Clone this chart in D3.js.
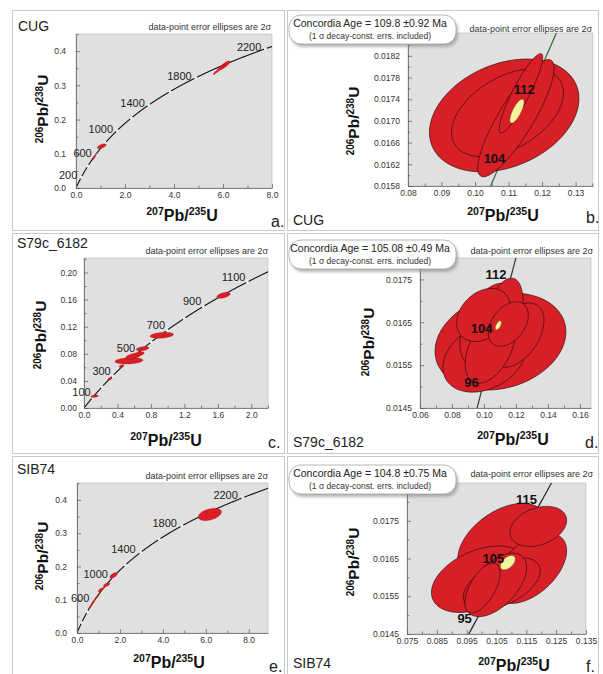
<!DOCTYPE html>
<html>
<head>
<meta charset="utf-8">
<script src="https://cdn.jsdelivr.net/npm/d3@7"></script>
<style>
body { margin: 0; background: #fff; }
svg { font-family: "Liberation Sans", Arial, sans-serif; }
</style>
</head>
<body>
<svg id="chart" width="603" height="674"></svg>
<script>
// decay constants (1/yr) - the concordia curve is defined by them
const lambda235 = 9.8485e-10;
const lambda238 = 1.55125e-10;

const sampleNames = ['CUG', 'S79c_6182', 'SIB74'];
const panelLetters = ['a.', 'b.', 'c.', 'd.', 'e.', 'f.'];
const concordiaAges = ['109.8 \u00b10.92', '105.08 \u00b10.49', '104.8 \u00b10.75'];
const noteText = 'data-point error ellipses are 2\u03c3';

// ages on the concordia (Ma)
const ageMarksA = [200, 400, 600, 800, 1000, 1200, 1400, 1600, 1800, 2000, 2200, 2400];
const ageLabelsA = [200, 600, 1000, 1400, 1800, 2200];
const ageMarksC = [100, 200, 300, 400, 500, 600, 700, 800, 900, 1000, 1100, 1200];
const ageLabelsC = [100, 300, 500, 700, 900, 1100];
const ageMarksE = [200, 400, 600, 800, 1000, 1200, 1400, 1600, 1800, 2000, 2200, 2400];
const ageLabelsE = [600, 1000, 1400, 1800, 2200];
const ageLabelsB = [104, 112];
const ageLabelsD = [96, 104, 112];
const ageLabelsF = [95, 105, 115];

// axis ticks
const xTicksA = [0, 2, 4, 6, 8], xMinorA = [1, 3, 5, 7];
const yTicksA = [0, 0.1, 0.2, 0.3, 0.4], yMinorA = [0.05, 0.15, 0.25, 0.35, 0.45];
const xTicksB = [0.08, 0.09, 0.10, 0.11, 0.12, 0.13], xMinorB = [0.085, 0.095, 0.105, 0.115, 0.125, 0.135];
const yTicksB = [0.0158, 0.0162, 0.0166, 0.0170, 0.0174, 0.0178, 0.0182];
const yMinorB = [0.0160, 0.0164, 0.0168, 0.0172, 0.0176, 0.0180, 0.0184];
const xTicksC = [0, 0.4, 0.8, 1.2, 1.6, 2.0], xMinorC = [0.2, 0.6, 1.0, 1.4, 1.8, 2.2];
const yTicksC = [0, 0.04, 0.08, 0.12, 0.16, 0.20], yMinorC = [0.02, 0.06, 0.10, 0.14, 0.18, 0.22];
const xTicksD = [0.06, 0.08, 0.10, 0.12, 0.14, 0.16], xMinorD = [0.07, 0.09, 0.11, 0.13, 0.15];
const yTicksD = [0.0145, 0.0155, 0.0165, 0.0175], yMinorD = [0.0150, 0.0160, 0.0170];
const xTicksE = [0, 2, 4, 6, 8], xMinorE = [1, 3, 5, 7];
const yTicksE = [0, 0.1, 0.2, 0.3, 0.4], yMinorE = [0.05, 0.15, 0.25, 0.35, 0.45];
const xTicksF = [0.075, 0.085, 0.095, 0.105, 0.115, 0.125, 0.135];
const xMinorF = [0.080, 0.090, 0.100, 0.110, 0.120, 0.130];
const yTicksF = [0.0145, 0.0155, 0.0165, 0.0175], yMinorF = [0.0150, 0.0160, 0.0170, 0.0180];

// error ellipses: [x centre, y centre, x half-width, y half-height, rho]
const ellipsesA = [
  [5.85, 0.347, 0.26, 0.016, 0.97],
  [6.05, 0.358, 0.22, 0.013, 0.85],
  [6.15, 0.362, 0.12, 0.008, 0.8],
  [1.05, 0.122, 0.18, 0.007, 0.6],
  [0.76, 0.092, 0.09, 0.011, 0.95]
];
const ellipsesB = [
  [0.1087, 0.01710, 0.0223, 0.00104, 0.3],
  [0.1097, 0.01715, 0.0167, 0.00081, 0.45],
  [0.1122, 0.01705, 0.0114, 0.00108, 0.85],
  [0.1137, 0.01751, 0.0065, 0.00073, 0.9]
];
const ellipsesC = [
  [0.126, 0.0174, 0.045, 0.0018, 0.3],
  [0.308, 0.043, 0.024, 0.0017, 0.5],
  [0.45, 0.062, 0.03, 0.002, 0.6],
  [0.537, 0.0696, 0.166, 0.0047, 0.2],
  [0.59, 0.0765, 0.09, 0.0045, 0.5],
  [0.66, 0.080, 0.06, 0.003, 0.4],
  [0.70, 0.0875, 0.075, 0.0032, 0.4],
  [0.93, 0.1073, 0.14, 0.0044, 0.3],
  [1.668, 0.1663, 0.08, 0.0044, 0.5]
];
const ellipsesD = [
  [0.1103, 0.01605, 0.0409, 0.00113, 0.2],
  [0.1006, 0.01569, 0.0263, 0.00082, 0.3],
  [0.1100, 0.01640, 0.0144, 0.00113, 0.5],
  [0.1022, 0.01646, 0.0172, 0.00095, 0.5],
  [0.0996, 0.01667, 0.0167, 0.00062, 0.3],
  [0.1038, 0.01588, 0.0156, 0.00080, 0.45],
  [0.1152, 0.01646, 0.0125, 0.00052, 0.4],
  [0.1205, 0.01620, 0.0170, 0.00075, 0.45]
];
const ellipsesE = [
  [6.19, 0.3564, 0.54, 0.0186, 0.4],
  [1.70, 0.173, 0.17, 0.0085, 0.6],
  [1.38, 0.145, 0.15, 0.006, 0.6],
  [1.12, 0.130, 0.13, 0.006, 0.7],
  [0.95, 0.110, 0.09, 0.008, 0.9],
  [0.78, 0.095, 0.10, 0.010, 0.9],
  [0.62, 0.079, 0.08, 0.008, 0.9]
];
const ellipsesF = [
  [0.0992, 0.01595, 0.0160, 0.00088, 0.4],
  [0.1070, 0.01694, 0.0150, 0.00102, 0.45],
  [0.1190, 0.01735, 0.0095, 0.00053, 0.3],
  [0.1162, 0.01624, 0.0123, 0.00093, 0.5],
  [0.1068, 0.01583, 0.0129, 0.00069, 0.5],
  [0.1048, 0.01580, 0.0103, 0.00084, 0.55],
  [0.1003, 0.01572, 0.0059, 0.00066, 0.6]
];
// concordia-age ellipses (yellow)
const yellowB = [0.1125, 0.01718, 0.0021, 0.00022, 0.75];
const yellowD = [0.1090, 0.01643, 0.0019, 0.000105, 0.6];
const yellowF = [0.1088, 0.01639, 0.0025, 0.00019, 0.5];

const svg = d3.select('#chart');
svg.append('defs').append('filter').attr('id', 'blur')
  .append('feGaussianBlur').attr('stdDeviation', 1.4);

function concX(t) { return Math.exp(lambda235 * t * 1e6) - 1; }
function concY(t) { return Math.exp(lambda238 * t * 1e6) - 1; }

function ellipsePoints(e) {
  const [cx, cy, sx, sy, rho] = e;
  const k = Math.sqrt(1 - rho * rho);
  return d3.range(0, 2 * Math.PI, Math.PI / 60)
    .map(a => [cx + sx * Math.cos(a), cy + sy * (rho * Math.cos(a) + k * Math.sin(a))]);
}

// layouts (pixel positions) for the six panels
const panels = [
  { id: 'a', box: [12, 10, 272, 220], plot: [76, 34, 272, 188], xDomain: [0, 8], yDomain: [0, 0.45],
    xTicks: xTicksA, xMinor: xMinorA, yTicks: yTicksA, yMinor: yMinorA, xFmt: '.1f', yFmt: '.1f', yPad: 10,
    ages: [1, 2500, 5], marks: ageMarksA, labels: ageLabelsA, ldx: -4, ldy: 2, ellipses: ellipsesA,
    name: [sampleNames[0], 18, 31], note: [271, 30], letter: [271, 227],
    xTitle: [182, 221], yTitle: [48, 109] },
  { id: 'b', box: [287, 10, 311, 220], plot: [408, 33, 593, 186], xDomain: [0.08, 0.1352], yDomain: [0.0158, 0.01862],
    xTicks: xTicksB, xMinor: xMinorB, yTicks: yTicksB, yMinor: yMinorB, xFmt: '.2f', yFmt: '.4f', yPad: 8,
    ages: [90, 130, 0.5], labels: ageLabelsB, ldx: 4, ldy: 2, ellipses: ellipsesB, yellow: yellowB, line: '#2f6b34',
    name: [sampleNames[0], 293, 225], note: [592, 32], letter: [586, 223], callout: [289, 15, concordiaAges[0]],
    xTitle: [503, 221], yTitle: [359, 121] },
  { id: 'c', box: [12, 233, 272, 220], plot: [84, 258, 268, 408], xDomain: [0, 2.2], yDomain: [0, 0.2214],
    xTicks: xTicksC, xMinor: xMinorC, yTicks: yTicksC, yMinor: yMinorC, xFmt: '.1f', yFmt: '.2f', yPad: 7,
    ages: [1, 1300, 5], marks: ageMarksC, labels: ageLabelsC, ldx: -2, ldy: -1, ellipses: ellipsesC,
    name: [sampleNames[1], 17, 248], note: [268, 254], letter: [268, 448],
    xTitle: [166, 446], yTitle: [46, 335] },
  { id: 'd', box: [287, 233, 311, 220], plot: [420, 258, 591, 408], xDomain: [0.06, 0.1669], yDomain: [0.0145, 0.018],
    xTicks: xTicksD, xMinor: xMinorD, yTicks: yTicksD, yMinor: yMinorD, xFmt: '.2f', yFmt: '.4f', yPad: 8,
    ages: [85, 130, 0.5], labels: ageLabelsD, ldx: -4, ldy: 1, ellipses: ellipsesD, yellow: yellowD, line: '#333',
    name: [sampleNames[1], 293, 447], note: [593, 254], letter: [585, 448], callout: [289, 240, concordiaAges[1]],
    xTitle: [513, 445], yTitle: [374, 342] },
  { id: 'e', box: [12, 456, 272, 230], plot: [77, 483, 268, 633], xDomain: [0, 8.9], yDomain: [0, 0.451],
    xTicks: xTicksE, xMinor: xMinorE, yTicks: yTicksE, yMinor: yMinorE, xFmt: '.1f', yFmt: '.1f', yPad: 10,
    ages: [1, 2600, 5], marks: ageMarksE, labels: ageLabelsE, ldx: -5, ldy: 1, ellipses: ellipsesE,
    name: [sampleNames[2], 17, 474], note: [268, 479], letter: [269, 672],
    xTitle: [169, 668], yTitle: [48, 556] },
  { id: 'f', box: [287, 456, 311, 230], plot: [407, 483, 586, 634], xDomain: [0.075, 0.135], yDomain: [0.0145, 0.0185],
    xTicks: xTicksF, xMinor: xMinorF, yTicks: yTicksF, yMinor: yMinorF, xFmt: '.3f', yFmt: '.4f', yPad: 8,
    ages: [85, 130, 0.5], labels: ageLabelsF, ldx: -4, ldy: 2, ellipses: ellipsesF, yellow: yellowF, line: '#222',
    name: [sampleNames[2], 293, 668], note: [593, 477], letter: [586, 672], callout: [289, 465, concordiaAges[2]],
    xTitle: [514, 671], yTitle: [359, 562] }
];

function isoTitle(sel, top, bottom, big, small) {
  sel.append('tspan').attr('font-size', small).attr('dy', -small * 0.55).text(top);
  sel.append('tspan').attr('font-size', big).attr('dy', small * 0.55).text('Pb/');
  sel.append('tspan').attr('font-size', small).attr('dy', -small * 0.55).text(bottom);
  sel.append('tspan').attr('font-size', big).attr('dy', small * 0.55).text('U');
}

function styleAxis(g, fs) {
  g.selectAll('.domain').attr('stroke', '#666').attr('stroke-width', 0.8);
  g.selectAll('.tick line').attr('stroke', '#555').attr('stroke-width', 0.7);
  g.selectAll('.tick text').attr('font-size', fs).attr('fill', '#333')
    .attr('font-family', '"Liberation Sans", Arial, sans-serif');
}

function drawPanel(p, i) {
  const [bx, by, bw, bh] = p.box;
  const [x0, y0, x1, y1] = p.plot;
  const x = d3.scaleLinear().domain(p.xDomain).range([x0, x1]);
  const y = d3.scaleLinear().domain(p.yDomain).range([y1, y0]);
  const g = svg.append('g');

  g.append('rect').attr('x', bx + 0.5).attr('y', by + 0.5).attr('width', bw).attr('height', bh)
    .attr('fill', 'none').attr('stroke', '#c9c9c9').attr('stroke-width', 1);

  g.append('rect').attr('x', x0).attr('y', y0).attr('width', x1 - x0).attr('height', y1 - y0)
    .attr('fill', '#e0e0e0').attr('stroke', '#b5b5b5').attr('stroke-width', 0.6);

  const clip = 'clip-' + p.id;
  g.append('clipPath').attr('id', clip).append('rect')
    .attr('x', x0).attr('y', y0).attr('width', x1 - x0).attr('height', y1 - y0);
  const inner = g.append('g').attr('clip-path', `url(#${clip})`);

  // concordia curve
  const ages = d3.range(p.ages[0], p.ages[1], p.ages[2]);
  inner.append('path').datum(ages)
    .attr('d', d3.line().x(t => x(concX(t))).y(t => y(concY(t))))
    .attr('fill', 'none').attr('stroke', p.line || '#111').attr('stroke-width', p.yellow ? 1.2 : 1.1);

  if (p.marks) {
    inner.selectAll('circle.mark').data(p.marks).enter().append('circle')
      .attr('cx', t => x(concX(t))).attr('cy', t => y(concY(t))).attr('r', 1.5)
      .attr('fill', '#f2f2f2');
  }

  // error ellipses, largest first
  const area = e => e[2] * e[3] * Math.sqrt(1 - e[4] * e[4]);
  const sorted = p.ellipses.slice().sort((a, b) => area(b) - area(a));
  const line = d3.line().x(d => x(d[0])).y(d => y(d[1])).curve(d3.curveLinearClosed);
  inner.selectAll('path.ell').data(sorted).enter().append('path')
    .attr('class', 'ell')
    .attr('d', e => line(ellipsePoints(e)))
    .attr('fill', '#d61f26')
    .attr('stroke', p.yellow ? '#2a0808' : '#b01018')
    .attr('stroke-width', p.yellow ? 0.65 : 0.3);

  if (p.yellow) {
    inner.append('path').attr('d', line(ellipsePoints(p.yellow)))
      .attr('fill', '#f7f29c').attr('stroke', '#6b5a2a').attr('stroke-width', 0.5);
  }

  // axes
  const xAxis = g.append('g').attr('transform', `translate(0,${y1})`)
    .call(d3.axisBottom(x).tickValues(p.xTicks).tickSizeInner(-4).tickSizeOuter(0).tickPadding(4)
      .tickFormat(d3.format(p.xFmt)));
  styleAxis(xAxis, 8.5);
  const xMin = g.append('g').attr('transform', `translate(0,${y1})`)
    .call(d3.axisBottom(x).tickValues(p.xMinor.filter(v => v <= p.xDomain[1])).tickSizeInner(-2.5)
      .tickSizeOuter(0).tickFormat(''));
  styleAxis(xMin, 8.5);
  xMin.select('.domain').remove();

  const yAxis = g.append('g').attr('transform', `translate(${x0},0)`)
    .call(d3.axisLeft(y).tickValues(p.yTicks).tickSizeInner(-4).tickSizeOuter(0).tickPadding(p.yPad)
      .tickFormat(d3.format(p.yFmt)));
  styleAxis(yAxis, 8.5);
  const yMin = g.append('g').attr('transform', `translate(${x0},0)`)
    .call(d3.axisLeft(y).tickValues(p.yMinor.filter(v => v <= p.yDomain[1])).tickSizeInner(-2.5)
      .tickSizeOuter(0).tickFormat(''));
  styleAxis(yMin, 8.5);
  yMin.select('.domain').remove();

  // age labels
  g.selectAll('text.age').data(p.labels).enter().append('text')
    .attr('x', t => x(concX(t)) + p.ldx).attr('y', t => y(concY(t)) + p.ldy)
    .attr('text-anchor', 'end')
    .attr('font-size', p.yellow ? 13 : 11)
    .attr('font-weight', p.yellow ? 'bold' : 'normal')
    .attr('fill', p.yellow ? '#111' : '#222')
    .text(t => t);

  // axis titles
  isoTitle(g.append('text').attr('x', p.xTitle[0]).attr('y', p.xTitle[1]).attr('text-anchor', 'middle')
    .attr('font-weight', 'bold').attr('fill', '#111'), '207', '235', 16, 10.5);
  isoTitle(g.append('text').attr('transform', `translate(${p.yTitle[0]},${p.yTitle[1]}) rotate(-90)`)
    .attr('text-anchor', 'middle').attr('font-weight', 'bold').attr('fill', '#111'), '206', '238', 15.5, 10);

  // note and labels
  g.append('text').attr('x', p.note[0]).attr('y', p.note[1]).attr('text-anchor', 'end')
    .attr('font-size', 9).attr('fill', '#333').text(noteText);
  g.append('text').attr('x', p.name[1]).attr('y', p.name[2]).attr('font-size', 14)
    .attr('fill', '#222').text(p.name[0]);
  g.append('text').attr('x', p.letter[0]).attr('y', p.letter[1]).attr('font-size', 16)
    .attr('fill', '#222').text(panelLetters[i]);

  if (p.callout) {
    const [cx, cy, age] = p.callout;
    const w = 167, h = 29;
    g.append('rect').attr('x', cx + 2).attr('y', cy + 3).attr('width', w).attr('height', h)
      .attr('rx', 12).attr('fill', '#888').attr('opacity', 0.6).attr('filter', 'url(#blur)');
    g.append('rect').attr('x', cx).attr('y', cy).attr('width', w).attr('height', h)
      .attr('rx', 12).attr('fill', '#fff').attr('stroke', '#999').attr('stroke-width', 0.7);
    g.append('text').attr('x', cx + 81).attr('y', cy + 12).attr('text-anchor', 'middle')
      .attr('font-size', 10.5).attr('fill', '#222').text('Concordia Age = ' + age + ' Ma');
    g.append('text').attr('x', cx + 81).attr('y', cy + 24).attr('text-anchor', 'middle')
      .attr('font-size', 8.5).attr('fill', '#333').text('(1 \u03c3 decay-const. errs. included)');
  }
}

panels.forEach(drawPanel);
</script>
</body>
</html>
